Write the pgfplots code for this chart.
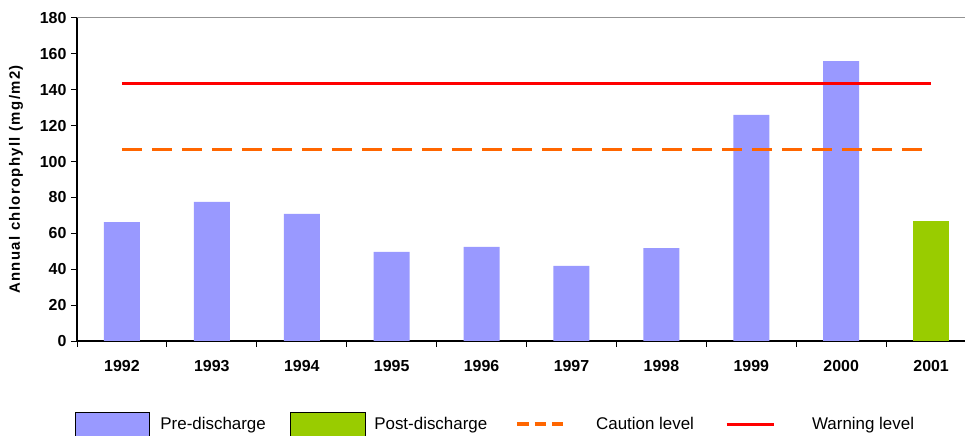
\documentclass[border=0pt]{standalone}
\usepackage{fontspec}
\setmainfont{Liberation Sans}
\usepackage{pgfplots}
\pgfplotsset{compat=1.18}
\definecolor{pre}{RGB}{153,153,255}
\definecolor{post}{RGB}{153,204,0}
\definecolor{warn}{RGB}{255,0,0}
\definecolor{caut}{RGB}{255,102,0}
\begin{document}
\begin{tikzpicture}
\useasboundingbox (0,0) rectangle (965bp,436bp);
\begin{axis}[
  at={(77bp,95bp)}, anchor=south west,
  scale only axis, width=888bp, height=323bp,
  xmin=-0.5, xmax=9.377, ymin=0, ymax=180,
  axis x line*=bottom, axis y line*=left,
  axis line style={black, line width=1.2bp},
  tick align=outside,
  tick style={black, line width=1bp},
  major tick length=6bp, minor tick length=6bp,
  xtick={0,...,9},
  xticklabels={1992,1993,1994,1995,1996,1997,1998,1999,2000,2001},
  major x tick style={draw=none},
  minor xtick={-0.5,0.5,...,9.5},
  ytick={0,20,...,180},
  /pgf/number format/assume math mode=true,
  ticklabel style={font=\bfseries\fontsize{16}{19}\selectfont},
  xticklabel style={yshift=-10bp},
  yticklabel style={xshift=-1bp},
  ylabel={Annual chlorophyll (mg/m2)},
  ylabel style={at={(axis description cs:-0.0687,0.5)}, anchor=center,
    font=\bfseries\fontsize{15}{18}\selectfont\addfontfeature{LetterSpace=9}},
  after end axis/.code={\draw[gray!85, line width=1bp] (rel axis cs:0,1) -- (rel axis cs:1,1);},
  legend columns=4, legend cell align=left,
  legend style={at={(axis description cs:-0.0028,-0.2198)}, anchor=north west,
    draw=none, fill=none, inner sep=0pt, outer sep=0pt,
    column sep=0pt, row sep=0pt,
    nodes={inner sep=0pt, outer sep=0pt, font=\fontsize{17}{20}\selectfont}},
]
\addplot[ybar, bar width=36bp, bar shift=0pt, fill=pre, draw=none,
  legend image code/.code={\draw[fill=pre, draw=black, line width=0.8bp] (0bp,-18bp) rectangle (74bp,11.7bp); \path (85.5bp,0bp);}]
  coordinates {(0,66.3)(1,77.5)(2,70.8)(3,49.6)(4,52.4)(5,41.8)(6,51.8)(7,126)(8,156)};
\addlegendentry{\makebox[130bp][l]{Pre-discharge}}
\addplot[ybar, bar width=36bp, bar shift=0pt, fill=post, draw=none,
  legend image code/.code={\draw[fill=post, draw=black, line width=0.8bp] (0bp,-18bp) rectangle (74.5bp,11.7bp); \path (83.5bp,0bp);}]
  coordinates {(9,66.9)};
\addlegendentry{\makebox[141.5bp][l]{Post-discharge}}
\addplot[caut, line width=3.3bp, dash pattern=on 20bp off 10bp,
  legend image code/.code={\draw[caut, line width=3.3bp, dash pattern=on 11.7bp off 5.5bp] (0bp,0bp) -- (46bp,0bp); \path (77bp,0bp);}]
  coordinates {(0,106.8)(9,106.8)};
\addlegendentry{\makebox[129bp][l]{Caution level}}
\addplot[warn, line width=3bp,
  legend image code/.code={\draw[warn, line width=3bp] (0bp,0bp) -- (47bp,0bp); \path (84bp,0bp);}]
  coordinates {(0,143.3)(9,143.3)};
\addlegendentry{Warning level}
\end{axis}
\end{tikzpicture}
\end{document}
